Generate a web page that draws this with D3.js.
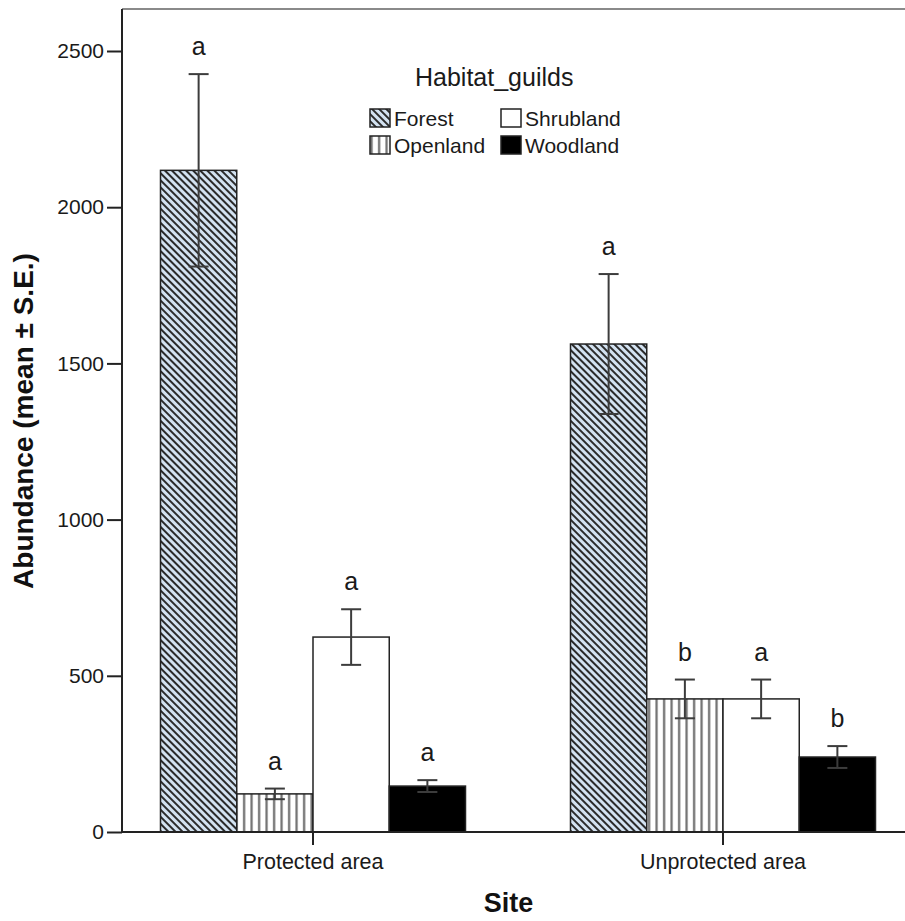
<!DOCTYPE html>
<html>
<head>
<meta charset="utf-8">
<script src="https://cdn.jsdelivr.net/npm/d3@7"></script>
<style>
  html, body { margin: 0; padding: 0; background: #fff; }
  svg { display: block; font-family: "Liberation Sans", Arial, sans-serif; }
</style>
</head>
<body>
<svg id="chart" width="905" height="921"></svg>
<script>
// Abundance of bird habitat guilds by site (mean ± S.E.)
const sites = ["Protected area", "Unprotected area"];
const guilds = ["Forest", "Openland", "Shrubland", "Woodland"];
const protectedMean = [2118, 122, 624, 147];
const protectedSE = [308, 17, 89, 19];
const unprotectedMean = [1562, 426, 426, 240];
const unprotectedSE = [224, 62, 62, 35];
const protectedLetters = ["a", "a", "a", "a"];
const unprotectedLetters = ["a", "b", "a", "b"];
const yTicks = [0, 500, 1000, 1500, 2000, 2500];

const rows = [];
sites.forEach((site, si) => {
  const means = si === 0 ? protectedMean : unprotectedMean;
  const ses = si === 0 ? protectedSE : unprotectedSE;
  const letters = si === 0 ? protectedLetters : unprotectedLetters;
  guilds.forEach((g, gi) => rows.push({ site, guild: g, mean: means[gi], se: ses[gi], letter: letters[gi] }));
});

const svg = d3.select("#chart");
const plot = { left: 122, top: 9, bottom: 832, right: 905 };

const y = d3.scaleLinear().domain([0, 2500]).range([plot.bottom, 51]);
const x0 = d3.scaleBand().domain(sites).range([108, 928]).padding(0);
const groupW = 305;
const x1 = d3.scaleBand().domain(guilds).range([-groupW / 2, groupW / 2]).padding(0);

// Fill patterns
const defs = svg.append("defs");
const hatch = defs.append("pattern")
  .attr("id", "forestHatch").attr("patternUnits", "userSpaceOnUse")
  .attr("width", 5).attr("height", 5)
  .attr("patternTransform", "rotate(-45)");
hatch.append("rect").attr("width", 5).attr("height", 5).attr("fill", "#d3e2f1");
hatch.append("rect").attr("x", 0).attr("width", 2).attr("height", 5).attr("fill", "#2b2b2b");

const vert = defs.append("pattern")
  .attr("id", "openStripes").attr("patternUnits", "userSpaceOnUse")
  .attr("width", 7.5).attr("height", 10);
vert.append("rect").attr("width", 7.5).attr("height", 10).attr("fill", "#fff");
vert.append("rect").attr("x", 3).attr("width", 2.2).attr("height", 10).attr("fill", "#6e6e6e");

const fills = {
  Forest: "url(#forestHatch)",
  Openland: "url(#openStripes)",
  Shrubland: "#ffffff",
  Woodland: "#000000"
};

// Frame: top border line
svg.append("line")
  .attr("x1", plot.left).attr("x2", plot.right)
  .attr("y1", plot.top).attr("y2", plot.top)
  .attr("stroke", "#8a8a8a").attr("stroke-width", 2);

// Bars
const barX = d => x0(d.site) + x0.bandwidth() / 2 + x1(d.guild);
svg.append("g").selectAll("rect").data(rows).join("rect")
  .attr("x", barX)
  .attr("y", d => y(d.mean))
  .attr("width", x1.bandwidth())
  .attr("height", d => y(0) - y(d.mean))
  .attr("fill", d => fills[d.guild])
  .attr("stroke", "#222").attr("stroke-width", 1.5);

// Error bars
const eb = svg.append("g").attr("stroke", "#3c3c3c").attr("stroke-width", 2);
const cx = d => barX(d) + x1.bandwidth() / 2;
rows.forEach(d => {
  const c = cx(d);
  eb.append("line").attr("x1", c).attr("x2", c).attr("y1", y(d.mean + d.se)).attr("y2", y(d.mean - d.se));
  eb.append("line").attr("x1", c - 10).attr("x2", c + 10).attr("y1", y(d.mean + d.se)).attr("y2", y(d.mean + d.se));
  eb.append("line").attr("x1", c - 10).attr("x2", c + 10).attr("y1", y(d.mean - d.se)).attr("y2", y(d.mean - d.se));
});

// Significance letters
svg.append("g").selectAll("text").data(rows).join("text")
  .attr("x", cx)
  .attr("y", d => y(d.mean + d.se) - 19)
  .attr("text-anchor", "middle")
  .attr("font-size", 25).attr("fill", "#1a1a1a")
  .text(d => d.letter);

// Y axis
const yAxis = d3.axisLeft(y).tickValues(yTicks).tickFormat(d3.format("d"))
  .tickSize(15).tickPadding(3).tickSizeOuter(0);
const gy = svg.append("g").attr("transform", `translate(${plot.left},0)`).call(yAxis);
gy.select(".domain").remove();
gy.selectAll(".tick line").attr("stroke", "#222").attr("stroke-width", 2);
gy.selectAll(".tick text").attr("font-size", 21).attr("fill", "#1a1a1a")
  .attr("font-family", "Liberation Sans, Arial, sans-serif");
svg.append("line")
  .attr("x1", plot.left).attr("x2", plot.left)
  .attr("y1", plot.top).attr("y2", plot.bottom)
  .attr("stroke", "#222").attr("stroke-width", 2);

// X axis
const gx = svg.append("g").attr("transform", `translate(0,${plot.bottom})`);
gx.append("line").attr("x1", plot.left).attr("x2", plot.right).attr("y1", 0).attr("y2", 0)
  .attr("stroke", "#222").attr("stroke-width", 2);
sites.forEach(s => {
  const c = x0(s) + x0.bandwidth() / 2;
  gx.append("line").attr("x1", c).attr("x2", c).attr("y1", 0).attr("y2", 13)
    .attr("stroke", "#222").attr("stroke-width", 2);
  gx.append("text").attr("x", c).attr("y", 37).attr("text-anchor", "middle")
    .attr("font-size", 21.5).attr("fill", "#1a1a1a").text(s);
});

// Axis titles
svg.append("text").attr("x", (plot.left + plot.right) / 2 - 5).attr("y", 912)
  .attr("text-anchor", "middle").attr("font-size", 27).attr("font-weight", "bold").attr("fill", "#111")
  .text("Site");
svg.append("text").attr("transform", "translate(33,421) rotate(-90)")
  .attr("text-anchor", "middle").attr("font-size", 28).attr("font-weight", "bold").attr("fill", "#111")
  .text("Abundance (mean ± S.E.)");

// Legend
const legend = svg.append("g");
legend.append("text").attr("x", 415).attr("y", 86).attr("font-size", 25).attr("fill", "#1a1a1a").text("Habitat_guilds");
const legendPos = { Forest: [370, 109], Openland: [370, 136], Shrubland: [501, 109], Woodland: [501, 136] };
guilds.forEach(g => {
  const [lx, ly] = legendPos[g];
  legend.append("rect").attr("x", lx).attr("y", ly).attr("width", 20).attr("height", 18)
    .attr("fill", fills[g]).attr("stroke", "#222").attr("stroke-width", 1.5);
  legend.append("text").attr("x", lx + 24).attr("y", ly + 17).attr("font-size", 21).attr("fill", "#1a1a1a").text(g);
});
</script>
</body>
</html>
